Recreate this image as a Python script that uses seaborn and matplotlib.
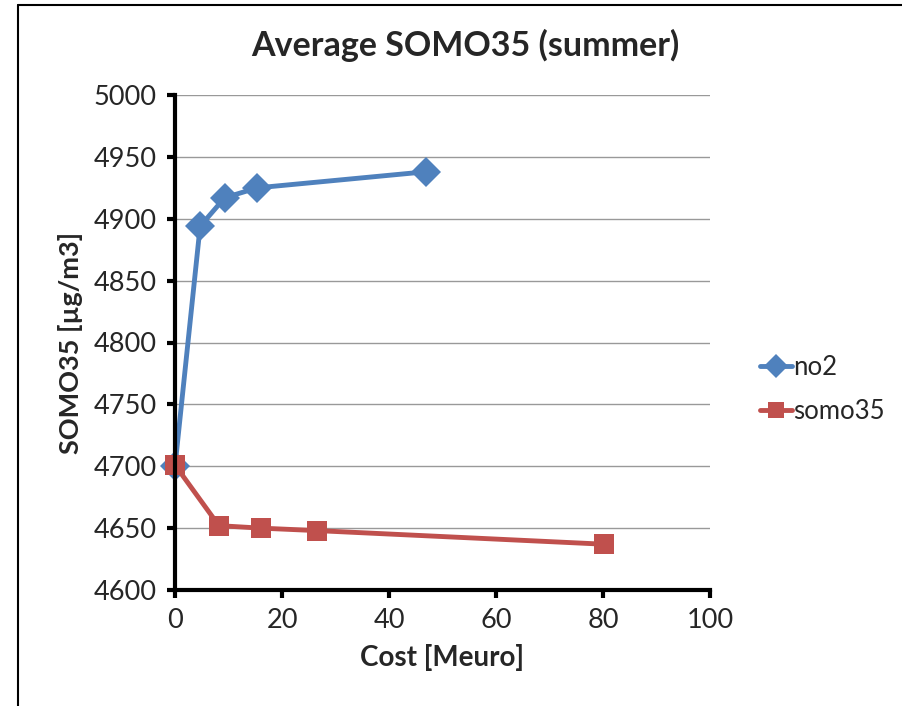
import numpy as np, pandas as pd
import matplotlib; matplotlib.use('Agg')
import matplotlib.pyplot as plt
import seaborn as sns

# data
no2_cost = [0, 4.7, 9.3, 15.4, 47.0]
no2_val = [4700, 4894, 4917, 4925, 4938]
somo_cost = [0, 8.2, 16.0, 26.5, 80.2]
somo_val = [4701, 4652, 4650, 4648, 4637]
colors = {'no2': '#4F81BD', 'somo35': '#C0504D'}
xticks = [0, 20, 40, 60, 80, 100]
yticks = [4600, 4650, 4700, 4750, 4800, 4850, 4900, 4950, 5000]

df = pd.DataFrame({
    'cost': no2_cost + somo_cost,
    'val': no2_val + somo_val,
    'series': ['no2'] * len(no2_cost) + ['somo35'] * len(somo_cost),
})

sns.set_style('white')
plt.rcParams['font.family'] = ['Lato', 'DejaVu Sans']

fig = plt.figure(figsize=(9.03, 7.06), dpi=100)
ax = fig.add_axes([175/903, 1-590/706, 535/903, 495/706])

sns.lineplot(data=df, x='cost', y='val', hue='series', style='series',
             markers={'no2': 'D', 'somo35': 's'}, dashes=False, sort=False,
             palette=colors, lw=3.5, markersize=15, markeredgewidth=0, ax=ax,
             clip_on=False)

ax.set_xlim(0, 100); ax.set_ylim(4600, 5000)
ax.set_xticks(xticks); ax.set_yticks(yticks)
ax.tick_params(labelsize=19.5, direction='out', length=6, width=3, color='black',
               left=True, bottom=True, pad=7)
ax.yaxis.grid(True, color='#999999', lw=1)
ax.set_axisbelow(True)
for s in ['top', 'right']:
    ax.spines[s].set_visible(False)
for s in ['left', 'bottom']:
    ax.spines[s].set_linewidth(3); ax.spines[s].set_color('black')

ax.set_xlabel('Cost [Meuro]', fontsize=20, fontweight='bold', labelpad=8)
ax.set_ylabel('SOMO35 [µg/m3]', fontsize=19.5, fontweight='bold', labelpad=8)
fig.text(465/903, 1-45/706, 'Average SOMO35 (summer)', fontsize=24.5,
         fontweight='bold', ha='center', va='center')

leg = ax.legend(loc='center left', bbox_to_anchor=(1.064, 0.405), frameon=False,
                fontsize=18.5, handlelength=1.25, handletextpad=0.05, labelspacing=0.75,
                borderaxespad=0.2, title=None)
for h in leg.legend_handles:
    h.set_markersize(12); h.set_linewidth(3.5)

# outer frame (top and left visible in reference)
fig.add_artist(plt.Line2D([18/903, 1], [1-5/706, 1-5/706], color='black', lw=1.5,
                          transform=fig.transFigure))
fig.add_artist(plt.Line2D([18/903, 18/903], [0, 1-5/706], color='black', lw=1.5,
                          transform=fig.transFigure))

fig.savefig('out.png', dpi=100)
